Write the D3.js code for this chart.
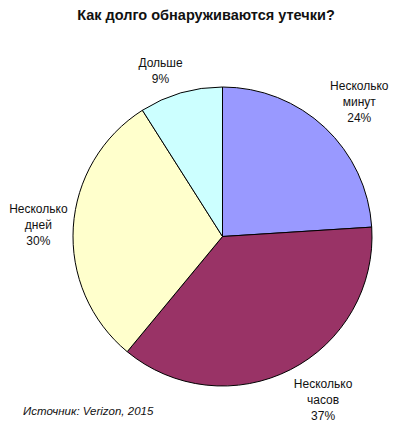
<!DOCTYPE html>
<html><head><meta charset="utf-8">
<script src="https://cdn.jsdelivr.net/npm/d3@7"></script>
<style>body{margin:0;background:#fff}svg{display:block}</style>
</head><body>
<script>
const categories = ["Несколько минут", "Несколько часов", "Несколько дней", "Дольше"];
const labelLines = [["Несколько","минут"],["Несколько","часов"],["Несколько","дней"],["Дольше"]];
const values = [24, 37, 30, 9];
const colors = ["#9999ff", "#993366", "#ffffcc", "#ccffff"];
const title = "Как долго обнаруживаются утечки?";
const source = "Источник: Verizon, 2015";

const W = 400, H = 426;
const cx = 222.5, cy = 236.5, R = 149.5;
// small per-label nudges (style) to mimic the spreadsheet's label placement
const nudges = [[5, 6], [15, -4], [0, 0], [-13, 3]];
const svg = d3.select("body").append("svg").attr("width", W).attr("height", H);

svg.append("text").attr("x", 206).attr("y", 20).attr("text-anchor", "middle")
  .attr("font-family", "Liberation Sans, Arial, sans-serif").attr("font-weight", "bold")
  .attr("font-size", 14.5).attr("fill", "#111").text(title);

const pie = d3.pie().sort(null).value(d => d)(values);
const arc = d3.arc().innerRadius(0).outerRadius(R);
const g = svg.append("g").attr("transform", `translate(${cx},${cy})`);
g.selectAll("path").data(pie).join("path")
  .attr("d", arc).attr("fill", (d, i) => colors[i])
  .attr("stroke", "#000").attr("stroke-width", 1).attr("stroke-linejoin", "round");

const lh = 16, gap = 5;
pie.forEach((d, i) => {
  const lines = labelLines[i].concat([values[i] + "%"]);
  const t = g.append("text").attr("font-family", "Liberation Sans, Arial, sans-serif")
    .attr("font-size", 12).attr("fill", "#111").attr("text-anchor", "middle");
  lines.forEach((l, k) => t.append("tspan").attr("x", 0).attr("dy", k ? lh : 0).text(l));
  const bb = t.node().getBBox();
  const w = bb.width, h = lines.length * lh;
  const a = (d.startAngle + d.endAngle) / 2;
  const ux = Math.sin(a), uy = -Math.cos(a);
  let dist = 0;
  for (dist = 0; dist < 400; dist += 0.5) {
    const bx = ux * dist, by = uy * dist;
    const nx = Math.max(bx - w / 2, Math.min(0, bx + w / 2));
    const ny = Math.max(by - h / 2, Math.min(0, by + h / 2));
    if (Math.hypot(nx, ny) >= R + gap) break;
  }
  const bx = ux * dist + nudges[i][0], by = uy * dist + nudges[i][1];
  t.attr("transform", `translate(${bx},${by - h / 2 + 12})`);
});

svg.append("text").attr("x", 23).attr("y", 415)
  .attr("font-family", "Liberation Sans, Arial, sans-serif").attr("font-style", "italic")
  .attr("font-size", 11.5).attr("fill", "#111").text(source);
</script>
</body></html>
